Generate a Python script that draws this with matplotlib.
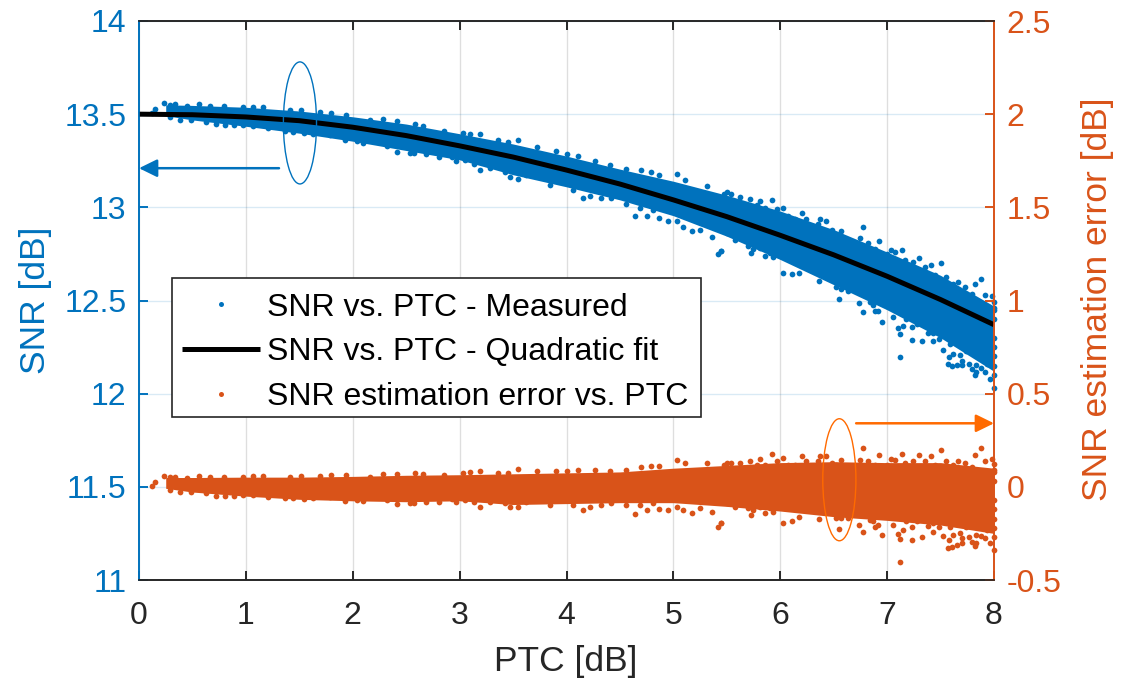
import matplotlib
matplotlib.use("Agg")
import matplotlib.pyplot as plt
from matplotlib.lines import Line2D
from matplotlib.patches import Ellipse, Rectangle

plt.rcParams['font.family'] = ['Liberation Sans', 'DejaVu Sans']

BLUE = '#0072BD'
RED = '#D95319'
ORANGE = '#FF6A00'
DARK = '#262626'

# Fit curve
fit_x = [0, 0.5, 1, 1.5, 2, 2.5, 3, 3.5, 4, 4.5, 5, 5.5, 6, 6.5, 7, 7.5, 8]
fit_y = [13.50, 13.497, 13.485, 13.465, 13.43, 13.385, 13.33, 13.27, 13.20,
         13.125, 13.04, 12.95, 12.85, 12.745, 12.63, 12.505, 12.37]

# Envelope of the dense point cloud
band_x = [0.25, 0.5, 1, 1.5, 2, 2.5, 3, 3.5, 4, 4.5, 5, 5.5, 6, 6.5, 7, 7.5, 8]
snr_top = [13.55, 13.547, 13.537, 13.517, 13.486, 13.447, 13.395, 13.34, 13.275,
           13.205, 13.14, 13.065, 12.98, 12.88, 12.76, 12.635, 12.47]
snr_bot = [13.492, 13.469, 13.435, 13.398, 13.355, 13.305, 13.255, 13.175, 13.11,
           13.04, 12.955, 12.845, 12.72, 12.585, 12.45, 12.30, 12.12]
err_top = [0.05, 0.05, 0.052, 0.052, 0.056, 0.062, 0.065, 0.07, 0.075,
           0.08, 0.10, 0.115, 0.13, 0.135, 0.13, 0.13, 0.10]
err_bot = [-0.008, -0.028, -0.05, -0.067, -0.075, -0.08, -0.075, -0.095, -0.09,
           -0.085, -0.085, -0.105, -0.13, -0.16, -0.18, -0.205, -0.25]

# Individually visible points on the edge of the cloud
pts_x = [0.12, 0.15, 0.234, 0.337, 0.38, 0.56, 0.717, 0.795, 0.805, 0.89, 1.21, 1.366, 1.52, 1.54,
         1.80, 1.93, 2.10, 2.41, 2.535, 2.58, 2.81, 2.965, 3.19, 3.19, 3.47, 3.55, 3.55, 3.845,
         3.90, 4.06, 4.155, 4.265, 4.32, 4.56, 4.64, 4.75, 4.79, 4.87, 4.87, 4.95, 5.03, 5.09,
         5.17, 5.36, 5.42, 5.445, 5.45, 5.575, 5.72, 5.73, 5.745, 5.81, 5.855, 5.925, 5.93, 6.03,
         6.03, 6.11, 6.18, 6.205, 6.36, 6.37, 6.43, 6.55, 6.57, 6.57, 6.63, 6.74, 6.77, 6.775,
         6.885, 6.915, 6.92, 6.95, 7.035, 7.10, 7.12, 7.125, 7.135, 7.18, 7.235, 7.30, 7.325,
         7.385, 7.415, 7.425, 7.485, 7.50, 7.525, 7.57, 7.58, 7.61, 7.65, 7.665, 7.70, 7.70,
         7.77, 7.795, 7.82, 7.82, 7.835, 7.88, 7.88, 7.915, 7.96, 7.97, 7.98, 8.0,
         8.0, 8.0, 8.0, 8.0, 8.0, 8.0, 8.0, 8.0,
         5.47, 5.54, 5.62, 5.78, 5.86, 5.965, 6.07, 6.135, 6.245, 6.31, 6.355, 6.48, 6.525, 6.635,
         6.745, 6.82, 6.885, 6.995, 7.07, 7.165, 7.245, 7.35, 7.445, 7.555, 7.62, 7.725, 7.79,
         7.915, 8.0,
         5.47, 5.51, 5.64, 5.70, 5.81, 5.90, 5.98, 6.075, 6.135, 6.245, 6.32, 6.40, 6.465, 6.525,
         6.68, 6.79, 6.84, 6.87, 6.995, 7.055, 7.15, 7.23, 7.275, 7.34, 7.43, 7.585, 7.62, 7.68,
         7.74, 7.835, 7.93,
         2.85, 3.03, 3.10, 3.36, 3.455, 3.72, 4.0, 4.11, 4.405, 4.56, 4.70, 5.11, 5.31, 5.50,
         2.925, 3.05, 3.13, 3.28, 3.42, 3.625, 3.72, 4.22, 4.42, 4.69, 4.81, 5.03, 5.25, 5.50,
         0.29, 0.446, 0.665, 0.976, 1.07, 1.16, 1.41, 1.69, 1.94, 2.16, 2.285, 2.41, 2.66,
         0.29, 0.49, 0.63, 0.976, 1.07, 1.44, 1.63, 1.79, 2.04, 2.32, 2.57, 2.69]
pts_snr = [13.505, 13.528, 13.558, 13.553, 13.469, 13.553, 13.445, 13.545, 13.443, 13.441, 13.425,
           13.409, 13.522, 13.397, 13.508, 13.361, 13.345, 13.299, 13.293, 13.449, 13.272, 13.251,
           13.394, 13.198, 13.165, 13.359, 13.154, 13.122, 13.301, 13.093, 13.05, 13.251, 13.052,
           13.017, 12.954, 12.956, 13.188, 13.175, 12.945, 12.925, 13.18, 12.897, 12.872, 12.842,
           12.751, 12.768, 12.767, 12.826, 13.047, 12.754, 12.777, 13.036, 12.738, 13.042, 12.731,
           12.998, 12.649, 12.644, 12.649, 12.97, 12.604, 12.935, 12.926, 12.506, 12.874, 12.564,
           12.55, 12.486, 12.894, 12.437, 12.443, 12.445, 12.819, 12.382, 12.769, 12.354, 12.199,
           12.318, 12.771, 12.402, 12.286, 12.726, 12.282, 12.326, 12.692, 12.284, 12.296, 12.703,
           12.235, 12.158, 12.195, 12.151, 12.153, 12.601, 12.175, 12.152, 12.161, 12.131, 12.59,
           12.099, 12.115, 12.613, 12.139, 12.117, 12.078, 12.174, 12.523, 12.032,
           12.49, 12.45, 12.40, 12.30, 12.25, 12.20, 12.15, 12.10,
           13.073, 13.072, 13.053, 13.012, 12.996, 12.993, 12.953, 12.94, 12.935, 12.894, 12.912,
           12.879, 12.857, 12.823, 12.834, 12.807, 12.774, 12.749, 12.758, 12.716, 12.705, 12.679,
           12.637, 12.626, 12.59, 12.574, 12.535, 12.529, 12.461,
           12.876, 12.869, 12.852, 12.795, 12.782, 12.755, 12.748, 12.728, 12.725, 12.693, 12.668,
           12.678, 12.619, 12.571, 12.561, 12.528, 12.49, 12.474, 12.472, 12.412, 12.362, 12.359,
           12.375, 12.386, 12.328, 12.269, 12.214, 12.207, 12.227, 12.156, 12.158,
           13.411, 13.399, 13.396, 13.36, 13.348, 13.326, 13.287, 13.274, 13.226, 13.206, 13.20,
           13.147, 13.114, 13.08,
           13.272, 13.254, 13.235, 13.212, 13.192, 13.173, 13.169, 13.061, 13.049, 12.995, 12.984,
           12.929, 12.88, 12.862,
           13.551, 13.544, 13.544, 13.537, 13.54, 13.537, 13.524, 13.51, 13.496, 13.471, 13.472,
           13.462, 13.436,
           13.483, 13.468, 13.459, 13.442, 13.438, 13.406, 13.395, 13.389, 13.356, 13.33, 13.289,
           13.285]
pts_err = [0.005, 0.028, 0.058, 0.055, -0.029, 0.058, -0.047, 0.055, -0.047, -0.047, -0.052,
           -0.061, 0.058, -0.065, 0.064, -0.074, -0.076, -0.094, -0.088, 0.073, -0.079, -0.083,
           0.087, -0.109, -0.109, 0.096, -0.109, -0.100, 0.087, -0.097, -0.127, 0.091, -0.100,
           -0.097, -0.147, -0.127, 0.112, 0.112, -0.118, -0.124, 0.145, -0.127, -0.138, -0.133,
           -0.213, -0.192, -0.192, -0.109, 0.141, -0.150, -0.124, 0.148, -0.141, 0.177, -0.133,
           0.154, -0.195, -0.183, -0.163, 0.163, -0.170, 0.163, 0.166, -0.227, 0.145, -0.165,
           -0.165, -0.204, 0.211, -0.245, -0.213, -0.204, 0.171, -0.260, 0.148, -0.251, -0.401,
           -0.281, 0.175, -0.183, -0.285, 0.171, -0.267, -0.208, 0.166, -0.240, -0.213, 0.198,
           -0.263, -0.328, -0.288, -0.324, -0.311, 0.141, -0.276, -0.299, -0.270, -0.294, 0.171,
           -0.320, -0.299, 0.211, -0.263, -0.276, -0.303, -0.204, 0.148, -0.338,
           0.12, 0.08, 0.03, -0.07, -0.12, -0.17, -0.22, -0.27,
           0.118, 0.130, 0.127, 0.118, 0.118, 0.136, 0.118, 0.118, 0.136, 0.109, 0.136, 0.130,
           0.118, 0.109, 0.145, 0.136, 0.118, 0.118, 0.145, 0.127, 0.136, 0.136, 0.118, 0.136,
           0.118, 0.130, 0.109, 0.136, 0.091,
           -0.079, -0.079, -0.070, -0.115, -0.106, -0.115, -0.106, -0.106, -0.097, -0.106, -0.115,
           -0.088, -0.133, -0.168, -0.142, -0.150, -0.177, -0.186, -0.159, -0.204, -0.231, -0.213,
           -0.186, -0.159, -0.195, -0.213, -0.258, -0.249, -0.213, -0.258, -0.231,
           0.064, 0.073, 0.078, 0.073, 0.073, 0.087, 0.087, 0.091, 0.087, 0.091, 0.109, 0.127,
           0.130, 0.130,
           -0.066, -0.070, -0.079, -0.084, -0.088, -0.079, -0.070, -0.106, -0.088, -0.097, -0.088,
           -0.106, -0.115, -0.088,
           0.051, 0.046, 0.051, 0.051, 0.058, 0.058, 0.055, 0.058, 0.062, 0.055, 0.067, 0.069,
           0.069,
           -0.017, -0.029, -0.035, -0.044, -0.044, -0.061, -0.061, -0.056, -0.070, -0.070, -0.088,
           -0.079]

x_ticks = [0, 1, 2, 3, 4, 5, 6, 7, 8]
left_ticks = [11, 11.5, 12, 12.5, 13, 13.5, 14]
left_labels = ['11', '11.5', '12', '12.5', '13', '13.5', '14']
right_ticks = [-0.5, 0, 0.5, 1, 1.5, 2, 2.5]
right_labels = ['-0.5', '0', '0.5', '1', '1.5', '2', '2.5']

W, H = 1135, 681
fig = plt.figure(figsize=(W / 100, H / 100), dpi=100)
ax = fig.add_axes([139 / W, (H - 580) / H, 855 / W, 559 / H])
ax2 = ax.twinx()
ax.set_xlim(0, 8)
ax.set_ylim(11, 14)
ax2.set_ylim(-0.5, 2.5)
ax.set_zorder(1)
ax2.set_zorder(2)
ax2.patch.set_visible(False)

ax.set_xticks(x_ticks)
ax.set_yticks(left_ticks, left_labels)
ax2.set_yticks(right_ticks, right_labels)

ax.grid(True, axis='x', color=DARK, alpha=0.15, lw=1)
ax.grid(True, axis='y', color=BLUE, alpha=0.15, lw=1)
ax.set_axisbelow(True)

ax.fill_between(band_x, snr_bot, snr_top, color=BLUE, lw=0, zorder=2)
ax.scatter(pts_x, pts_snr, s=17, color=BLUE, lw=0, zorder=2, clip_on=False)
ax.plot(fit_x, fit_y, color='black', lw=3.6, zorder=3, solid_capstyle='butt')

ax2.fill_between(band_x, err_bot, err_top, color=RED, lw=0, zorder=2)
ax2.scatter(pts_x, pts_err, s=17, color=RED, lw=0, zorder=2, clip_on=False)

ax.add_patch(Ellipse((1.506, 13.453), 0.31, 0.655, fill=False, ec=BLUE, lw=1, zorder=4))
ax2.add_patch(Ellipse((6.553, 0.038), 0.31, 0.655, fill=False, ec=ORANGE, lw=1, zorder=4))
arrow_style = '-|>,head_length=0.55,head_width=0.27'
ax.annotate('', xy=(0, 13.21), xytext=(1.31, 13.21),
            arrowprops=dict(arrowstyle=arrow_style, color=BLUE, lw=1.8,
                            mutation_scale=20, shrinkA=0, shrinkB=0), zorder=4)
ax2.annotate('', xy=(8, 0.341), xytext=(6.71, 0.341),
             arrowprops=dict(arrowstyle=arrow_style, color=ORANGE, lw=1.8,
                             mutation_scale=20, shrinkA=0, shrinkB=0), zorder=4)

for a in (ax, ax2):
    a.spines['top'].set_color(DARK)
    a.spines['bottom'].set_color(DARK)
    a.spines['left'].set_color(BLUE)
    a.spines['right'].set_color(RED)
    for s in a.spines.values():
        s.set_linewidth(1.2)

ax.tick_params(axis='x', direction='in', length=6.5, width=1.4, color=DARK, labelcolor=DARK,
               labelsize=23, pad=15, top=True)
ax.tick_params(axis='y', direction='in', length=6.5, width=1.4, color=BLUE, labelcolor=BLUE,
               labelsize=23, pad=9)
ax2.tick_params(axis='y', direction='in', length=6.5, width=1.4, color=RED, labelcolor=RED,
                labelsize=23, pad=9)

fig.text(36 / W, 1 - 300 / H, 'SNR [dB]', rotation=90, color=BLUE, fontsize=25.5, ha='center', va='center')
fig.text(1098 / W, 1 - 299 / H, 'SNR estimation error [dB]', rotation=90, color=RED, fontsize=25.5,
         ha='center', va='center')
fig.text(566 / W, 1 - 661 / H, 'PTC [dB]', color=DARK, fontsize=25.5, ha='center', va='center')

handles = [
    Line2D([], [], ls='none', marker='o', ms=3.6, mfc=BLUE, mec='none'),
    Line2D([], [], color='black', lw=3.6, solid_capstyle='butt'),
    Line2D([], [], ls='none', marker='o', ms=3.6, mfc=RED, mec='none'),
]
labels = ['SNR vs. PTC - Measured', 'SNR vs. PTC - Quadratic fit', 'SNR estimation error vs. PTC']
ax2.add_patch(Rectangle(((172 - 139) / 855, (580 - 417) / 559), (701 - 172) / 855, (417 - 278) / 559,
                        transform=ax2.transAxes, fc='white', ec=DARK, lw=1.2, zorder=9))
leg = ax2.legend(handles, labels, loc='upper left',
                 bbox_to_anchor=((172 - 139) / 855, (580 - 283) / 559),
                 fontsize=23, frameon=False, borderaxespad=0, handlelength=2.47,
                 handletextpad=0.19, labelspacing=0.46, borderpad=0.3)
leg.set_zorder(10)

fig.savefig('out.png', dpi=100)
